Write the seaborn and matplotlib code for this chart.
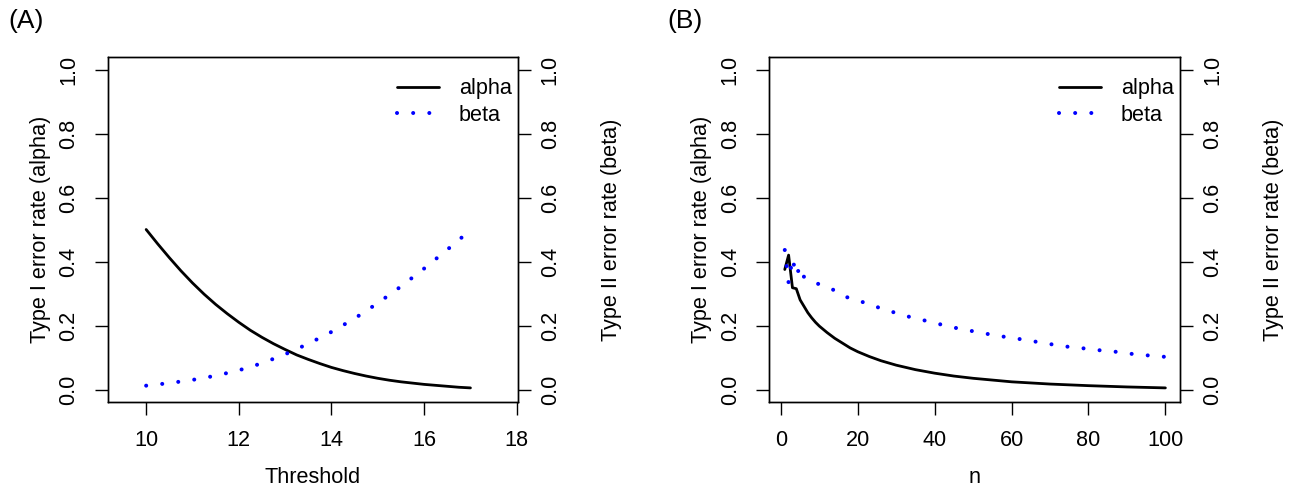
import numpy as np
import pandas as pd
import matplotlib
matplotlib.use("Agg")
import matplotlib.pyplot as plt
from matplotlib.lines import Line2D
import seaborn as sns

# ---- data ----
# (A) error rates against the threshold
thr = [10, 10.25, 10.5, 10.75, 11, 11.25, 11.5, 11.75, 12, 12.25, 12.5, 12.75,
       13, 13.25, 13.5, 13.75, 14, 14.25, 14.5, 14.75, 15, 15.25, 15.5, 15.75,
       16, 16.25, 16.5, 16.75, 17]
alpha_thr = [0.500, 0.455, 0.412, 0.371, 0.333, 0.298, 0.266, 0.237, 0.210,
             0.185, 0.163, 0.143, 0.125, 0.108, 0.094, 0.081, 0.069, 0.059,
             0.050, 0.042, 0.035, 0.029, 0.024, 0.020, 0.016, 0.013, 0.010,
             0.007, 0.005]
thr_b = [10, 10.5, 11, 11.5, 12, 12.5, 13, 13.5, 14, 14.5, 15, 15.5, 16, 16.5, 17]
beta_thr = [0.012, 0.020, 0.030, 0.043, 0.060, 0.082, 0.110, 0.143, 0.180,
            0.222, 0.270, 0.322, 0.378, 0.437, 0.498]

# (B) error rates against the sample size
n_alpha = [1, 2, 3, 4, 5, 6, 7, 8, 9, 10, 12, 14, 16, 18, 20, 23, 26, 30, 35,
           40, 45, 50, 60, 70, 80, 90, 100]
alpha_n = [0.375, 0.42, 0.318, 0.315, 0.28, 0.26, 0.24, 0.224, 0.21, 0.198,
           0.178, 0.16, 0.145, 0.13, 0.118, 0.103, 0.09, 0.076, 0.062, 0.051,
           0.042, 0.035, 0.024, 0.017, 0.012, 0.008, 0.005]
n_beta = [1, 2, 3, 4, 5, 6, 8, 10, 13, 16, 19, 23, 26, 30, 34, 38, 42, 46, 50,
          54, 58, 63, 67, 71, 75, 80, 84, 88, 92, 97, 100]
beta_n = [0.436, 0.333, 0.41, 0.356, 0.385, 0.352, 0.336, 0.329, 0.316, 0.294,
          0.28, 0.268, 0.253, 0.239, 0.225, 0.214, 0.202, 0.191, 0.182, 0.173,
          0.165, 0.156, 0.148, 0.14, 0.133, 0.127, 0.121, 0.117, 0.11, 0.105, 0.102]

yticks = [0.0, 0.2, 0.4, 0.6, 0.8, 1.0]
ytick_labels = ["0.0", "0.2", "0.4", "0.6", "0.8", "1.0"]

sns.set_style("ticks")
plt.rcParams['font.family'] = ['Liberation Sans', 'DejaVu Sans']
plt.rcParams['text.color'] = 'black'
plt.rcParams['axes.labelcolor'] = 'black'
FS = 15.6

W, H = 1298, 488
fig = plt.figure(figsize=(W / 100, H / 100), dpi=100)

dot_style = dict(color="#0000FF", lw=2.9, linestyle=(0, (0.01, 4.0)),
                 dash_capstyle="round")
line_style = dict(color="black", lw=2.0)


def style_axis(ax, left_side=True):
    ax.set_ylim(-0.04, 1.04)
    ax.set_yticks(yticks)
    ax.set_yticklabels(ytick_labels)
    ax.tick_params(axis="both", direction="out", length=9.4, width=1.0,
                   labelsize=FS, colors="black")
    ax.tick_params(axis="y", labelrotation=90, pad=11 if left_side else 6.5)
    ax.tick_params(axis="x", pad=10.5)
    for lab in ax.get_yticklabels():
        lab.set_va("center")
    for sp in ax.spines.values():
        sp.set_visible(True)
        sp.set_color("black")
        sp.set_linewidth(1.0)


def panel(rect, x1, y1, x2, y2, xlim, xticks, xlabel, tag, tag_x):
    ax = fig.add_axes(rect)
    ax2 = ax.twinx()
    sns.lineplot(x=x1, y=y1, ax=ax, **line_style)
    sns.lineplot(x=x2, y=y2, ax=ax2, **dot_style)
    ax.set_xlim(*xlim)
    ax.set_xticks(xticks)
    ax.set_xticklabels([str(t) for t in xticks])
    style_axis(ax, True)
    style_axis(ax2, False)
    ax2.tick_params(axis="x", which="both", bottom=False, top=False)

    ax.set_xlabel(xlabel, fontsize=FS, va="center")
    ax.xaxis.set_label_coords(0.5, -0.219)
    ax.set_ylabel("Type I error rate (alpha)", fontsize=FS, va="center")
    ax.yaxis.set_label_coords(-0.165, 0.5)
    ax2.set_ylabel("Type II error rate (beta)", fontsize=FS, va="center")
    ax2.yaxis.set_label_coords(1.228, 0.5)

    handles = [Line2D([], [], **line_style), Line2D([], [], **dot_style)]
    ax2.legend(handles, ["alpha", "beta"], loc="upper right",
               bbox_to_anchor=(0.985, 0.938), frameon=False, fontsize=FS,
               handlelength=1.95, handletextpad=0.9, labelspacing=0.25,
               borderaxespad=0, borderpad=0)
    fig.text(tag_x / W, 1 - 21 / H, tag, fontsize=19, ha="left", va="center")
    return ax


bottom = 1 - 402.3 / H
height = 345.6 / H
panel([107.7 / W, bottom, 410 / W, height], thr, alpha_thr, thr_b, beta_thr,
      (9.17, 18.02), [10, 12, 14, 16, 18], "Threshold", "(A)", 8)
panel([769 / W, bottom, 411 / W, height], n_alpha, alpha_n, n_beta, beta_n,
      (-3.1, 103.8), [0, 20, 40, 60, 80, 100], "n", "(B)", 667)

fig.savefig("out.png", dpi=100)
